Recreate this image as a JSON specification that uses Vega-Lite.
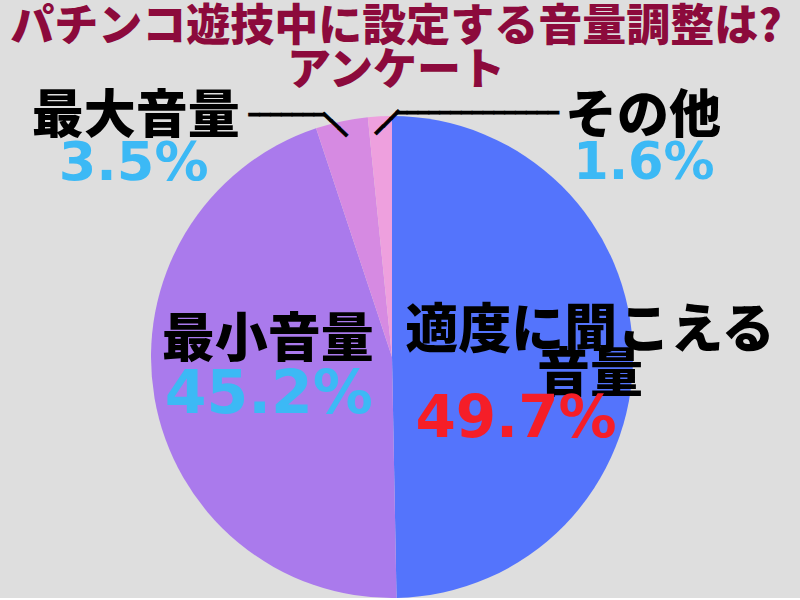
{
  "$schema": "https://vega.github.io/schema/vega-lite/v6.json",
  "width": 482,
  "height": 482,
  "autosize": {"type": "none"},
  "padding": {"left": 151, "top": 116, "right": 167, "bottom": 0},
  "background": "#dedede",
  "view": {"stroke": null},
  "title": {
    "text": ["パチンコ遊技中に設定する音量調整は?", "アンケート"],
    "font": "Noto Sans CJK JP Black, Noto Sans CJK JP",
    "fontSize": 44,
    "fontWeight": 900,
    "color": "#8c0a3c",
    "anchor": "middle",
    "offset": 22,
    "lineHeight": 44,
    "dx": 4,
    "dy": 30
  },
  "data": {
    "values": [
      {"name": "適度に聞こえる\n音量", "share": 0.497, "rank": 1},
      {"name": "最小音量", "share": 0.452, "rank": 2},
      {"name": "最大音量", "share": 0.035, "rank": 3},
      {"name": "その他", "share": 0.016, "rank": 4}
    ]
  },
  "encoding": {
    "theta": {"field": "share", "type": "quantitative", "stack": true},
    "order": {"field": "rank", "type": "quantitative"}
  },
  "layer": [
    {
      "mark": {"type": "arc", "radius": 241},
      "encoding": {
        "color": {
          "field": "name",
          "type": "nominal",
          "scale": {
            "domain": ["適度に聞こえる\n音量", "最小音量", "最大音量", "その他"],
            "range": ["#5474fc", "#aa7aec", "#d68ae2", "#eea0de"]
          },
          "legend": null
        }
      }
    },
    {
      "mark": {"type": "text", "radius": 241, "dx": -206, "dy": -4, "font": "Noto Sans CJK JP Black, Noto Sans CJK JP", "fontSize": 52, "fontWeight": 900, "color": "#000000", "align": "center", "baseline": "middle"},
      "encoding": {
        "text": {"field": "name", "type": "nominal"},
        "opacity": {"condition": {"test": "datum.rank === 3", "value": 1}, "value": 0}
      }
    },
    {
      "mark": {"type": "text", "radius": 241, "dx": -208, "dy": 43, "font": "DejaVu Sans", "fontSize": 54, "fontWeight": "bold", "color": "#3cb9f5", "align": "center", "baseline": "middle"},
      "encoding": {
        "text": {"field": "share", "type": "quantitative", "format": ".1%"},
        "opacity": {"condition": {"test": "datum.rank === 3", "value": 1}, "value": 0}
      }
    },
    {
      "mark": {"type": "text", "radius": 241, "dx": 263, "dy": 1, "font": "Noto Sans CJK JP Black, Noto Sans CJK JP", "fontSize": 52, "fontWeight": 900, "color": "#000000", "align": "center", "baseline": "middle"},
      "encoding": {
        "text": {"field": "name", "type": "nominal"},
        "opacity": {"condition": {"test": "datum.rank === 4", "value": 1}, "value": 0}
      }
    },
    {
      "mark": {"type": "text", "radius": 241, "dx": 264, "dy": 48, "font": "DejaVu Sans", "fontSize": 51, "fontWeight": "bold", "color": "#3cb9f5", "align": "center", "baseline": "middle"},
      "encoding": {
        "text": {"field": "share", "type": "quantitative", "format": ".1%"},
        "opacity": {"condition": {"test": "datum.rank === 4", "value": 1}, "value": 0}
      }
    },
    {
      "mark": {"type": "text", "radius": 126, "dx": 0, "dy": -37, "font": "Noto Sans CJK JP Black, Noto Sans CJK JP", "fontSize": 53, "fontWeight": 900, "color": "#000000", "align": "center", "baseline": "middle"},
      "encoding": {
        "text": {"field": "name", "type": "nominal"},
        "opacity": {"condition": {"test": "datum.rank === 2", "value": 1}, "value": 0}
      }
    },
    {
      "mark": {"type": "text", "radius": 126, "dx": 1, "dy": 17, "font": "DejaVu Sans", "fontSize": 60, "fontWeight": "bold", "color": "#3cb9f5", "align": "center", "baseline": "middle"},
      "encoding": {
        "text": {"field": "share", "type": "quantitative", "format": ".1%"},
        "opacity": {"condition": {"test": "datum.rank === 2", "value": 1}, "value": 0}
      }
    },
    {
      "mark": {"type": "text", "radius": 130, "dx": 68, "dy": -24, "font": "Noto Sans CJK JP Black, Noto Sans CJK JP", "fontSize": 53, "fontWeight": 900, "color": "#000000", "align": "center", "baseline": "middle", "lineBreak": "\n", "lineHeight": 44},
      "encoding": {
        "text": {"field": "name", "type": "nominal"},
        "opacity": {"condition": {"test": "datum.rank === 1", "value": 1}, "value": 0}
      }
    },
    {
      "mark": {"type": "text", "radius": 130, "dx": -6, "dy": 64, "font": "DejaVu Sans", "fontSize": 58, "fontWeight": "bold", "color": "#f51e28", "align": "center", "baseline": "middle"},
      "encoding": {
        "text": {"field": "share", "type": "quantitative", "format": ".1%"},
        "opacity": {"condition": {"test": "datum.rank === 1", "value": 1}, "value": 0}
      }
    },
    {
      "mark": {"type": "text", "text": "━━━━━━━", "radius": 241, "dx": -55, "dy": -5, "font": "DejaVu Sans", "fontSize": 18, "color": "#000000", "stroke": "#000000", "strokeWidth": 0.8, "align": "center", "baseline": "middle"},
      "encoding": {
        "opacity": {"condition": {"test": "datum.rank === 3", "value": 1}, "value": 0}
      }
    },
    {
      "mark": {"type": "text", "text": "━━━", "radius": 241, "angle": 43.6, "dx": -2.6, "dy": 8, "font": "DejaVu Sans", "fontSize": 18, "color": "#000000", "stroke": "#000000", "strokeWidth": 0.8, "align": "center", "baseline": "middle"},
      "encoding": {
        "opacity": {"condition": {"test": "datum.rank === 3", "value": 1}, "value": 0}
      }
    },
    {
      "mark": {"type": "text", "text": "━━━━━━━━━━━━━━━", "radius": 241, "dx": 97.6, "dy": -2.5, "font": "DejaVu Sans", "fontSize": 18, "color": "#000000", "stroke": "#000000", "strokeWidth": 0.8, "align": "center", "baseline": "middle"},
      "encoding": {
        "opacity": {"condition": {"test": "datum.rank === 4", "value": 1}, "value": 0}
      }
    },
    {
      "mark": {"type": "text", "text": "━━━", "radius": 241, "angle": 315, "dx": 1, "dy": 10.5, "font": "DejaVu Sans", "fontSize": 18, "color": "#000000", "stroke": "#000000", "strokeWidth": 0.8, "align": "center", "baseline": "middle"},
      "encoding": {
        "opacity": {"condition": {"test": "datum.rank === 4", "value": 1}, "value": 0}
      }
    }
  ]
}
